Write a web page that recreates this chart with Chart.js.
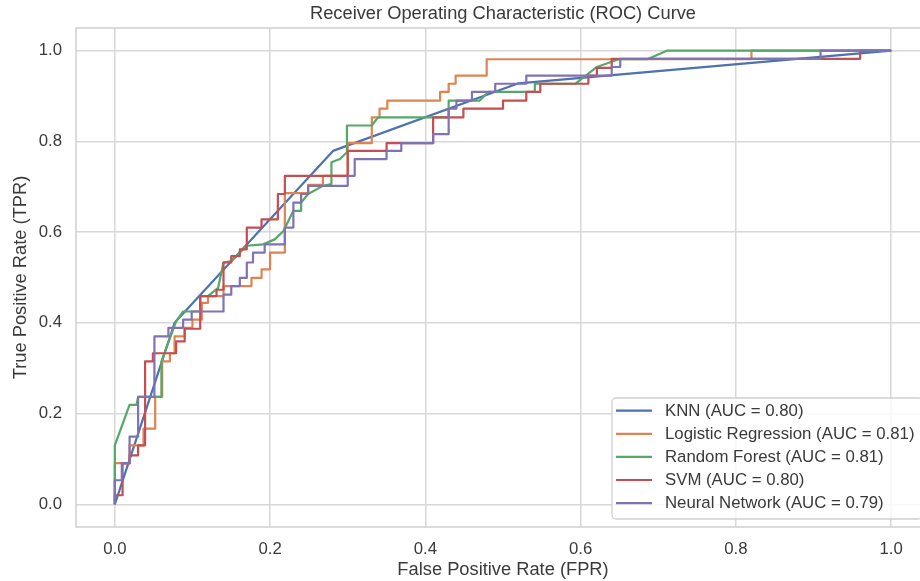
<!DOCTYPE html>
<html><head><meta charset="utf-8">
<script src="https://cdn.jsdelivr.net/npm/chart.js@4.4.0/dist/chart.umd.min.js"></script>
<style>html,body{margin:0;padding:0;overflow:hidden;background:#fff;width:920px;height:581px}canvas{display:block}</style>
</head><body>
<canvas id="c" width="940" height="581"></canvas>
<script>
// ---- data ----
const modelNames = ['KNN', 'Logistic Regression', 'Random Forest', 'SVM', 'Neural Network'];
const aucValues = ['0.80', '0.81', '0.81', '0.80', '0.79'];
const seriesColors = ['#4C72B0', '#DD8452', '#55A868', '#C44E52', '#8172B3'];
const tickValues = [0, 0.2, 0.4, 0.6, 0.8, 1.0];

const knnFpr = [0, 0.077, 0.281, 0.52, 1];
const knnTpr = [0, 0.40, 0.779, 0.928, 1];

const lrFpr = [0, 0, 0.019, 0.019, 0.037, 0.037, 0.052, 0.052, 0.061, 0.061, 0.071, 0.071, 0.077, 0.077, 0.09, 0.09, 0.10, 0.10, 0.112, 0.112, 0.12, 0.12, 0.14, 0.14, 0.176, 0.176, 0.189, 0.189, 0.20, 0.20, 0.219, 0.219, 0.249, 0.249, 0.268, 0.268, 0.30, 0.30, 0.331, 0.331, 0.341, 0.341, 0.351, 0.351, 0.419, 0.419, 0.43, 0.43, 0.439, 0.439, 0.479, 0.479, 0.82, 0.82, 1];
const lrTpr = [0, 0.091, 0.091, 0.13, 0.13, 0.167, 0.167, 0.237, 0.237, 0.315, 0.315, 0.333, 0.333, 0.37, 0.37, 0.389, 0.389, 0.407, 0.407, 0.444, 0.444, 0.459, 0.459, 0.481, 0.481, 0.499, 0.499, 0.518, 0.518, 0.555, 0.555, 0.686, 0.686, 0.704, 0.704, 0.724, 0.724, 0.796, 0.796, 0.853, 0.853, 0.872, 0.872, 0.89, 0.89, 0.909, 0.909, 0.927, 0.927, 0.945, 0.945, 0.981, 0.981, 1, 1];

const rfFpr = [0, 0, 0.019, 0.028, 0.03, 0.06, 0.06, 0.079, 0.088, 0.11, 0.11, 0.12, 0.133, 0.14, 0.15, 0.161, 0.17, 0.191, 0.206, 0.217, 0.23, 0.24, 0.24, 0.249, 0.268, 0.279, 0.279, 0.29, 0.299, 0.299, 0.331, 0.339, 0.43, 0.43, 0.47, 0.481, 0.541, 0.541, 0.593, 0.621, 0.649, 0.686, 0.711, 1];
const rfTpr = [0, 0.13, 0.219, 0.219, 0.237, 0.237, 0.315, 0.403, 0.425, 0.425, 0.459, 0.459, 0.477, 0.533, 0.536, 0.555, 0.57, 0.573, 0.584, 0.602, 0.647, 0.647, 0.665, 0.684, 0.702, 0.706, 0.754, 0.761, 0.776, 0.835, 0.835, 0.853, 0.853, 0.89, 0.89, 0.909, 0.909, 0.927, 0.927, 0.964, 0.981, 0.981, 1, 1];

const svmFpr = [0, 0, 0.01, 0.01, 0.019, 0.019, 0.03, 0.03, 0.039, 0.039, 0.049, 0.049, 0.079, 0.079, 0.09, 0.09, 0.11, 0.11, 0.131, 0.131, 0.14, 0.14, 0.15, 0.15, 0.161, 0.161, 0.17, 0.17, 0.189, 0.189, 0.21, 0.21, 0.219, 0.219, 0.30, 0.30, 0.35, 0.35, 0.41, 0.41, 0.449, 0.449, 0.50, 0.50, 0.53, 0.53, 0.548, 0.548, 0.61, 0.61, 0.621, 0.621, 0.64, 0.64, 0.96, 0.96, 1];
const svmTpr = [0, 0.02, 0.02, 0.09, 0.09, 0.108, 0.108, 0.13, 0.13, 0.315, 0.315, 0.333, 0.333, 0.359, 0.359, 0.387, 0.387, 0.459, 0.459, 0.473, 0.473, 0.533, 0.533, 0.547, 0.547, 0.562, 0.562, 0.61, 0.61, 0.628, 0.628, 0.684, 0.684, 0.724, 0.724, 0.779, 0.779, 0.796, 0.796, 0.853, 0.853, 0.872, 0.872, 0.89, 0.89, 0.909, 0.909, 0.927, 0.927, 0.945, 0.945, 0.962, 0.962, 0.982, 0.982, 1, 1];

const nnFpr = [0, 0, 0.009, 0.009, 0.019, 0.019, 0.03, 0.03, 0.051, 0.051, 0.069, 0.069, 0.088, 0.088, 0.099, 0.099, 0.14, 0.14, 0.15, 0.15, 0.161, 0.161, 0.17, 0.17, 0.178, 0.178, 0.193, 0.193, 0.219, 0.219, 0.23, 0.23, 0.24, 0.24, 0.249, 0.249, 0.30, 0.30, 0.309, 0.309, 0.35, 0.35, 0.369, 0.369, 0.41, 0.41, 0.43, 0.43, 0.44, 0.44, 0.46, 0.46, 0.49, 0.49, 0.53, 0.53, 0.64, 0.64, 0.651, 0.651, 0.909, 0.909, 1];
const nnTpr = [0, 0.053, 0.053, 0.091, 0.091, 0.149, 0.149, 0.237, 0.237, 0.37, 0.37, 0.389, 0.389, 0.407, 0.407, 0.425, 0.425, 0.462, 0.462, 0.481, 0.481, 0.499, 0.499, 0.533, 0.533, 0.555, 0.555, 0.573, 0.573, 0.61, 0.61, 0.665, 0.665, 0.684, 0.684, 0.702, 0.702, 0.724, 0.724, 0.761, 0.761, 0.779, 0.779, 0.796, 0.796, 0.816, 0.816, 0.872, 0.872, 0.89, 0.89, 0.909, 0.909, 0.927, 0.927, 0.945, 0.945, 0.964, 0.964, 0.982, 0.982, 1, 1];

const fprSeries = [knnFpr, lrFpr, rfFpr, svmFpr, nnFpr];
const tprSeries = [knnTpr, lrTpr, rfTpr, svmTpr, nnTpr];

// ---- style ----
const FONT = 'Liberation Sans, Arial, sans-serif';
const TEXT = '#3a3a3a';
const GRID = '#d8d8d8';

const datasets = modelNames.map((name, i) => ({
  label: name + ' (AUC = ' + aucValues[i] + ')',
  data: fprSeries[i].map((x, j) => ({x: x, y: tprSeries[i][j]})),
  borderColor: seriesColors[i],
  backgroundColor: seriesColors[i],
  borderWidth: 2.2,
  borderJoinStyle: 'round',
  pointRadius: 0,
  showLine: true,
  tension: 0,
  fill: false,
  order: modelNames.length - i
}));

const frameAndLegend = {
  id: 'frameAndLegend',
  afterDatasetsDraw(chart) {
    const {ctx, chartArea: a} = chart;
    ctx.save();
    ctx.strokeStyle = '#d2d2d2';
    ctx.lineWidth = 1.6;
    ctx.strokeRect(a.left, a.top, a.right - a.left, a.bottom - a.top);
    ctx.restore();
  },
  afterDraw(chart) {
    const {ctx, chartArea: a} = chart;
    const ds = chart.data.datasets;
    const right = a.right - 8, bottom = a.bottom - 8;
    const left = 612, top = bottom - 121;
    ctx.save();
    ctx.beginPath();
    if (ctx.roundRect) ctx.roundRect(left, top, right - left, bottom - top, 4);
    else ctx.rect(left, top, right - left, bottom - top);
    ctx.fillStyle = 'rgba(255,255,255,0.8)';
    ctx.fill();
    ctx.strokeStyle = '#d0d0d0';
    ctx.lineWidth = 1.3;
    ctx.stroke();
    ctx.font = '16.8px ' + FONT;
    ctx.textBaseline = 'middle';
    ctx.textAlign = 'left';
    ds.forEach((d, i) => {
      const y = top + 12.7 + i * 23.1;
      ctx.beginPath();
      ctx.moveTo(left + 4, y);
      ctx.lineTo(left + 40, y);
      ctx.strokeStyle = d.borderColor;
      ctx.lineWidth = 2.2;
      ctx.stroke();
      ctx.fillStyle = TEXT;
      ctx.fillText(d.label, left + 53, y + 0.5);
    });
    ctx.restore();
  }
};

const setTicks = s => { s.ticks = tickValues.map(v => ({value: v})); };

new Chart(document.getElementById('c'), {
  type: 'scatter',
  data: {datasets: datasets},
  plugins: [frameAndLegend],
  options: {
    responsive: false,
    animation: false,
    layout: {padding: {left: 0, right: 10, top: 0, bottom: 0}},
    plugins: {
      legend: {display: false},
      tooltip: {enabled: false},
      title: {
        display: true,
        text: 'Receiver Operating Characteristic (ROC) Curve',
        fullSize: false,
        color: TEXT,
        font: {family: FONT, size: 18.3, weight: 'normal', lineHeight: 1.2},
        padding: {top: 3, bottom: 3}
      }
    },
    scales: {
      x: {
        type: 'linear', min: -0.05, max: 1.05,
        afterBuildTicks: setTicks,
        afterFit: s => { s.height = 54; },
        grid: {color: GRID, lineWidth: 1.5, drawTicks: false},
        border: {display: false},
        ticks: {padding: 12, color: TEXT, font: {family: FONT, size: 16.8}, callback: v => v.toFixed(1), maxRotation: 0},
        title: {display: true, text: 'False Positive Rate (FPR)', color: TEXT, font: {family: FONT, size: 18.3, lineHeight: 1.2}, padding: {top: 0, bottom: 0}}
      },
      y: {
        type: 'linear', min: -0.05, max: 1.05,
        afterBuildTicks: setTicks,
        afterFit: s => { s.width = 76; },
        grid: {color: GRID, lineWidth: 1.5, drawTicks: false},
        border: {display: false},
        ticks: {padding: 14, color: TEXT, font: {family: FONT, size: 16.8}, callback: v => v.toFixed(1)},
        title: {display: true, text: 'True Positive Rate (TPR)', color: TEXT, font: {family: FONT, size: 18.3, lineHeight: 1.2}, padding: {top: 10.3, bottom: 0}}
      }
    }
  }
});
</script>
</body></html>
